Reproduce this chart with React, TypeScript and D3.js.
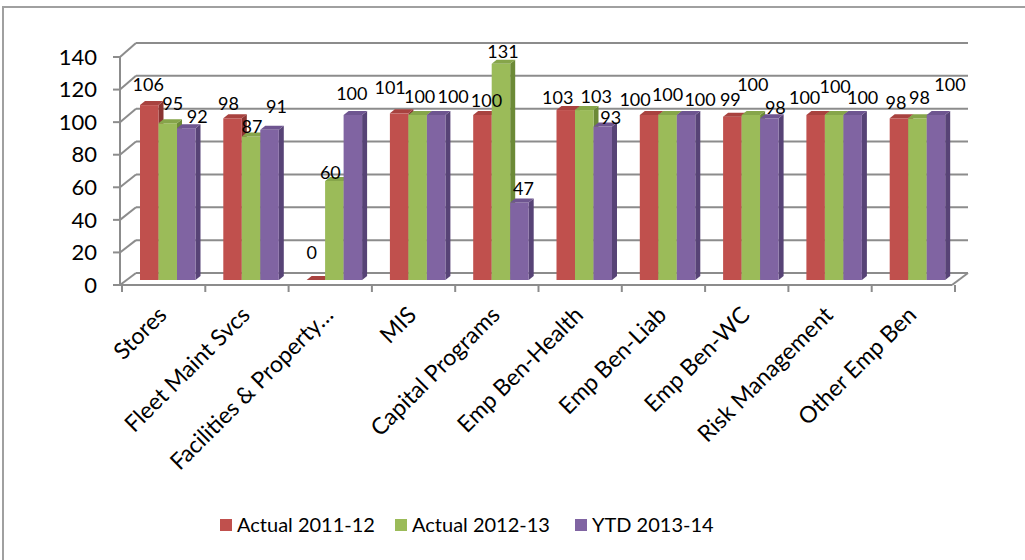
import React from "react";
import * as d3 from "d3";

// Budget performance by department, percent of plan
const categories = [
  "Stores",
  "Fleet Maint Svcs",
  "Facilities & Property…",
  "MIS",
  "Capital Programs",
  "Emp Ben-Health",
  "Emp Ben-Liab",
  "Emp Ben-WC",
  "Risk Management",
  "Other Emp Ben",
];
const seriesNames = ["Actual 2011-12", "Actual 2012-13", "YTD 2013-14"];
const actual2011 = [106, 98, 0, 101, 100, 103, 100, 99, 100, 98];
const actual2012 = [95, 87, 60, 100, 131, 103, 100, 100, 100, 98];
const ytd2013 = [92, 91, 100, 100, 47, 93, 100, 98, 100, 100];
const yTicks = [0, 20, 40, 60, 80, 100, 120, 140];

// Label nudges (dx, dy) per category and series, avoiding overlaps
const labelNudge: [number, number][][] = [
  [[-1, -20], [5, -20], [11, -12]],
  [[-4, -15], [1, -10], [7, -23]],
  [[-4, -27], [-4, -8], [-1, -21]],
  [[-9, -26], [2, -18], [17, -18]],
  [[4, -14], [2, -12], [4, -14]],
  [[-8, -12], [12, -13], [8, -9]],
  [[-14, -15], [0, -20], [14, -15]],
  [[-2, -17], [2, -30], [6, -11]],
  [[-11, -17], [1, -28], [10, -17]],
  [[-3, -16], [2, -21], [14, -30]],
];

const palette = [
  { front: "#C0504D", side: "#8A3432", top: "#A8423F" },
  { front: "#9BBB59", side: "#6C8A37", top: "#86A54A" },
  { front: "#8064A2", side: "#574376", top: "#6E5590" },
];

const FONT = "Lato, 'Open Sans', sans-serif";

export default function App() {
  const W = 1025;
  const H = 560;
  const series = [actual2011, actual2012, ytd2013];

  // 3D box geometry
  const x0 = 120;
  const x1 = 952;
  const depthX = 16;
  const depthY = -12;

  const band = d3.scaleBand<string>().domain(categories).range([122, 955]).padding(0);
  const yFront = d3.scaleLinear().domain([0, 140]).range([285, 57]);
  const yBack = d3.scaleLinear().domain([0, 140]).range([285 + depthY, 57 + depthY - 2]);
  const yBar = d3.scaleLinear().domain([0, 140]).range([280, 49]);

  const bw = band.bandwidth();
  const barW = 18.5;
  const groupOffset = 18;
  const bdx = 5;
  const bdy = -4;

  const gridColor = "#8C8C8C";

  return (
    <svg
      width={W}
      height={H}
      style={{ position: "absolute", left: 0, top: 0, background: "#fff" }}
      fontFamily={FONT}
    >
      <rect x={3} y={7} width={W + 20} height={H + 20} fill="#fff" stroke="#A0A0A0" strokeWidth={2} />

      {/* back wall gridlines and left wall diagonals */}
      {yTicks.map((t) => (
        <g key={`g${t}`}>
          <line x1={x0 + depthX} x2={x1 + depthX} y1={yBack(t)} y2={yBack(t)} stroke={gridColor} strokeWidth={2} />
          <line x1={x0} x2={x0 + depthX} y1={yFront(t)} y2={yBack(t)} stroke={gridColor} strokeWidth={2} />
        </g>
      ))}
      {/* floor */}
      <line x1={x0} x2={x1} y1={yFront(0)} y2={yFront(0)} stroke={gridColor} strokeWidth={2} />
      <line x1={x1} x2={x1 + depthX} y1={yFront(0)} y2={yBack(0)} stroke={gridColor} strokeWidth={2} />

      {/* value axis */}
      <line x1={x0} x2={x0} y1={yFront(140)} y2={yFront(0)} stroke={gridColor} strokeWidth={2} />
      {yTicks.map((t) => (
        <g key={`t${t}`}>
          <line x1={x0 - 7} x2={x0} y1={yFront(t)} y2={yFront(t)} stroke={gridColor} strokeWidth={2} />
          <text x={97} y={yFront(t)} dy="0.35em" textAnchor="end" fontSize={22} fill="#000">
            {t}
          </text>
        </g>
      ))}

      {/* category ticks */}
      {categories.map((c) => (
        <line
          key={`ct${c}`}
          x1={band(c)!}
          x2={band(c)!}
          y1={yFront(0)}
          y2={yFront(0) + 7}
          stroke={gridColor}
          strokeWidth={2}
        />
      ))}
      <line x1={band(categories[9])! + bw} x2={band(categories[9])! + bw} y1={yFront(0)} y2={yFront(0) + 7} stroke={gridColor} strokeWidth={2} />

      {/* bars */}
      {categories.map((c, ci) =>
        series.map((vals, si) => {
          const v = vals[ci];
          const x = band(c)! + groupOffset + si * barW;
          const yt = yBar(v);
          const yb = yBar(0);
          const col = palette[si];
          const side = [
            [x + barW, yt],
            [x + barW + bdx, yt + bdy],
            [x + barW + bdx, yb + bdy],
            [x + barW, yb],
          ];
          const top = [
            [x, yt],
            [x + bdx, yt + bdy],
            [x + barW + bdx, yt + bdy],
            [x + barW, yt],
          ];
          return (
            <g key={`b${ci}-${si}`}>
              <polygon points={side.map((p) => p.join(",")).join(" ")} fill={col.side} />
              <rect x={x} y={yt} width={barW} height={Math.max(0, yb - yt)} fill={col.front} />
              <polygon points={top.map((p) => p.join(",")).join(" ")} fill={col.top} />
            </g>
          );
        })
      )}

      {/* data labels */}
      {categories.map((c, ci) =>
        series.map((vals, si) => {
          const v = vals[ci];
          const cx = band(c)! + groupOffset + si * barW + barW / 2;
          const [ndx, ndy] = labelNudge[ci][si];
          return (
            <text
              key={`l${ci}-${si}`}
              x={cx + ndx}
              y={yBar(v) + ndy}
              dy="0.35em"
              textAnchor="middle"
              fontSize={18}
              fill="#000"
            >
              {v}
            </text>
          );
        })
      )}

      {/* category labels */}
      {categories.map((c) => {
        const cx = band(c)! + bw / 2 - 7;
        const cy = 305;
        return (
          <text
            key={`cl${c}`}
            transform={`translate(${cx},${cy}) rotate(-45)`}
            textAnchor="end"
            dy="0.7em"
            fontSize={23}
            fill="#000"
          >
            {c}
          </text>
        );
      })}

      {/* legend */}
      {seriesNames.map((n, i) => {
        const lx = [220, 395, 575][i];
        const ly = 525;
        return (
          <g key={`lg${n}`}>
            <rect x={lx} y={ly - 6} width={12} height={12} fill={palette[i].front} />
            <text x={lx + 17} y={ly} dy="0.35em" fontSize={20} fill="#000">
              {n}
            </text>
          </g>
        );
      })}
    </svg>
  );
}
